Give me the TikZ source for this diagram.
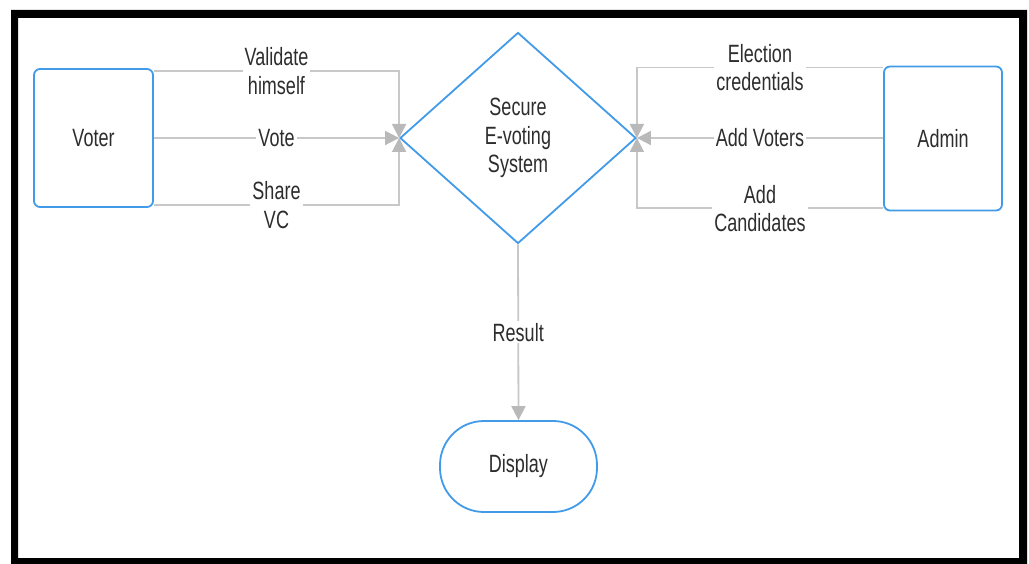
\documentclass[tikz,border=0pt]{standalone}
\usepackage{fontspec}
\newfontfamily\dfont[FakeStretch=0.72]{Liberation Sans}
\usetikzlibrary{arrows.meta,shapes.geometric}
\definecolor{bblue}{RGB}{66,155,232}
\definecolor{lgrey}{RGB}{200,200,200}
\definecolor{agrey}{RGB}{185,185,185}
\definecolor{tgrey}{RGB}{45,45,45}
\tikzset{
  every node/.style={font=\dfont\fontsize{25}{28.5}\selectfont, text=tgrey},
  boxnode/.style={draw=bblue, line width=1.8pt, rounded corners=6pt, inner sep=0pt},
  conn/.style={draw=lgrey, line width=1.8pt, -{Triangle[length=14pt,width=14pt,fill=agrey,color=agrey]}},
  lab/.style={fill=white, inner sep=2pt, align=center}
}
\begin{document}
\begin{tikzpicture}[x=1pt,y=-1pt]
\useasboundingbox (0,0) rectangle (1029,564);
\fill[white] (0,0) rectangle (1029,564);
\fill[black, even odd rule] (11,10) rectangle (1027,564) (18,18) rectangle (1019,558);

\node[boxnode, minimum width=119pt, minimum height=138pt] (voter) at (93.5,138) {Voter};
\node[boxnode, minimum width=118pt, minimum height=144pt] (admin) at (943,138.5) {Admin};
\node[draw=bblue, line width=1.8pt, diamond, aspect=1.118, minimum width=236pt, minimum height=211pt, inner sep=0pt, align=center] (sys) at (518,138) {Secure\\E-voting\\System};
\node[draw=bblue, line width=1.8pt, rounded corners=44pt, minimum width=157pt, minimum height=91pt, inner sep=0pt] (disp) at (518.5,466.5) {Display};

\draw[conn] ([yshift=-3pt]voter.north east) -| (sys.west) node[pos=0.25, lab] {Validate\\himself};
\draw[conn] (voter.east |- sys.west) -- (sys.west) node[midway, lab] {Vote};
\draw[conn] ([yshift=3pt]voter.south east) -| (sys.west) node[pos=0.25, lab] {Share\\VC};

\draw[conn] ([yshift=-2pt]admin.north west) -| (sys.east) node[pos=0.25, lab] {Election\\credentials};
\draw[conn] (admin.west |- sys.east) -- (sys.east) node[midway, lab] {Add Voters};
\draw[conn] ([yshift=3pt]admin.south west) -| (sys.east) node[pos=0.25, lab] {Add\\Candidates};

\draw[conn] (sys.south) -- (disp.north) node[midway, lab] {Result};
\end{tikzpicture}
\end{document}
